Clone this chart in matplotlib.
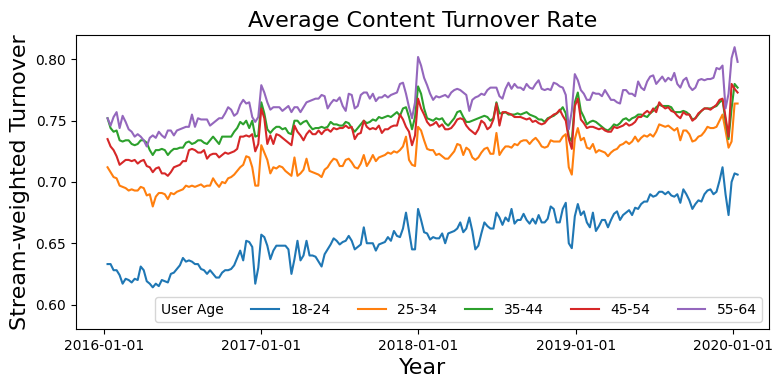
#Import libraries
import pandas as pd
import matplotlib
matplotlib.use("Agg")
import matplotlib.pyplot as plt
import matplotlib.dates as mdates
from matplotlib.lines import Line2D

#Weekly dates (one point per week)
weeks = pd.date_range("2016-01-10", periods=210, freq="7D")

#Age groups shown in the legend
age_groups = ["18-24", "25-34", "35-44", "45-54", "55-64"]

#Stream-weighted turnover per age group
turnover_18_24 = [
    0.633, 0.633, 0.628, 0.628, 0.624, 0.617, 0.621, 0.620, 0.618, 0.621,
    0.620, 0.631, 0.628, 0.619, 0.617, 0.614, 0.617, 0.615, 0.620, 0.619,
    0.618, 0.625, 0.626, 0.629, 0.632, 0.638, 0.635, 0.636, 0.635, 0.633,
    0.633, 0.629, 0.628, 0.625, 0.628, 0.625, 0.622, 0.622,
    0.626, 0.628, 0.628, 0.629, 0.632, 0.638, 0.644, 0.636, 0.652, 0.651,
    0.647, 0.617, 0.630, 0.657, 0.655, 0.648, 0.637, 0.644, 0.648, 0.648,
    0.648, 0.648, 0.645, 0.625, 0.637, 0.652, 0.636, 0.640, 0.652, 0.640,
    0.640, 0.639, 0.635, 0.631, 0.641, 0.645,
    0.649, 0.654, 0.652, 0.649, 0.651, 0.652, 0.656, 0.652, 0.645, 0.647,
    0.649, 0.663, 0.650, 0.650, 0.650, 0.644, 0.649, 0.650, 0.651, 0.655,
    0.652, 0.660, 0.656, 0.655, 0.662, 0.675, 0.660, 0.645, 0.645, 0.678,
    0.669, 0.659, 0.658, 0.653, 0.655, 0.654, 0.654, 0.658, 0.650, 0.658,
    0.659, 0.660, 0.662, 0.667, 0.659, 0.662, 0.671, 0.660, 0.645, 0.648,
    0.658, 0.667, 0.664, 0.662, 0.662, 0.675, 0.671, 0.665, 0.671, 0.668,
    0.678, 0.666, 0.669, 0.669, 0.674, 0.669, 0.666, 0.670, 0.666, 0.673,
    0.667, 0.667, 0.670, 0.680, 0.678, 0.667, 0.667, 0.678, 0.683, 0.650,
    0.646, 0.672, 0.682,
    0.673, 0.676, 0.667, 0.663, 0.675, 0.660, 0.664, 0.669, 0.669, 0.663,
    0.669, 0.674, 0.676, 0.669, 0.673, 0.675, 0.677, 0.673, 0.679, 0.678,
    0.682, 0.684, 0.684, 0.690, 0.688, 0.689,
    0.692, 0.692, 0.690, 0.692, 0.689, 0.688, 0.690, 0.683, 0.694, 0.690,
    0.685, 0.678, 0.682, 0.685, 0.684, 0.690, 0.693, 0.694, 0.690, 0.692,
    0.701, 0.712, 0.690, 0.673, 0.700, 0.707, 0.706,
]

turnover_25_34 = [
    0.712, 0.708, 0.704, 0.703, 0.697, 0.696, 0.695, 0.693, 0.694, 0.693,
    0.693, 0.696, 0.695, 0.689, 0.690, 0.680, 0.688, 0.691, 0.691, 0.690,
    0.686, 0.691, 0.690, 0.692, 0.693, 0.694, 0.697, 0.696, 0.697, 0.696,
    0.697, 0.698, 0.696, 0.697, 0.697, 0.703, 0.699, 0.696,
    0.700, 0.699, 0.703, 0.704, 0.706, 0.709, 0.712, 0.714, 0.721, 0.720,
    0.712, 0.697, 0.697, 0.730, 0.724, 0.718, 0.707, 0.712, 0.711, 0.713,
    0.712, 0.709, 0.707, 0.705, 0.720, 0.705, 0.707, 0.710, 0.719, 0.709,
    0.708, 0.707, 0.706, 0.704, 0.710, 0.712,
    0.716, 0.719, 0.718, 0.713, 0.713, 0.718, 0.719, 0.716, 0.712, 0.711,
    0.715, 0.722, 0.713, 0.717, 0.722, 0.717, 0.720, 0.721, 0.722, 0.724,
    0.723, 0.725, 0.724, 0.726, 0.729, 0.737, 0.718, 0.714, 0.713, 0.745,
    0.742, 0.734, 0.727, 0.726, 0.726, 0.722, 0.723, 0.721, 0.719, 0.719,
    0.722, 0.725, 0.731, 0.730, 0.722, 0.728, 0.726, 0.720, 0.718, 0.720,
    0.724, 0.727, 0.728, 0.723, 0.723, 0.740, 0.722, 0.726, 0.729, 0.729,
    0.728, 0.731, 0.730, 0.733, 0.734, 0.734, 0.731, 0.734, 0.736, 0.733,
    0.729, 0.728, 0.729, 0.734, 0.733, 0.733, 0.733, 0.737, 0.739, 0.712,
    0.706, 0.735, 0.744,
    0.734, 0.736, 0.728, 0.727, 0.731, 0.724, 0.726, 0.725, 0.724, 0.721,
    0.724, 0.726, 0.727, 0.730, 0.731, 0.733, 0.731, 0.733, 0.737, 0.733,
    0.736, 0.738, 0.737, 0.739, 0.737, 0.741,
    0.747, 0.746, 0.745, 0.746, 0.744, 0.742, 0.744, 0.734, 0.742, 0.742,
    0.739, 0.733, 0.734, 0.737, 0.738, 0.741, 0.745, 0.744, 0.744, 0.745,
    0.750, 0.755, 0.742, 0.728, 0.733, 0.764, 0.764,
]

turnover_35_44 = [
    0.752, 0.744, 0.741, 0.742, 0.734, 0.733, 0.734, 0.734, 0.731, 0.730,
    0.731, 0.734, 0.734, 0.732, 0.726, 0.722, 0.726, 0.726, 0.727, 0.726,
    0.722, 0.725, 0.727, 0.727, 0.728, 0.728, 0.732, 0.733, 0.731, 0.732,
    0.734, 0.734, 0.732, 0.731, 0.734, 0.737, 0.734, 0.731,
    0.737, 0.737, 0.737, 0.737, 0.741, 0.744, 0.749, 0.747, 0.750, 0.744,
    0.750, 0.737, 0.738, 0.765, 0.756, 0.743, 0.740, 0.743, 0.745, 0.745,
    0.743, 0.744, 0.740, 0.739, 0.750, 0.750, 0.747, 0.749, 0.750, 0.746,
    0.743, 0.744, 0.744, 0.745, 0.744, 0.745,
    0.749, 0.747, 0.747, 0.746, 0.746, 0.749, 0.748, 0.744, 0.741, 0.744,
    0.747, 0.750, 0.748, 0.749, 0.751, 0.750, 0.753, 0.752, 0.753, 0.754,
    0.753, 0.755, 0.757, 0.754, 0.760, 0.761, 0.753, 0.743, 0.753, 0.778,
    0.772, 0.760, 0.752, 0.751, 0.750, 0.752, 0.751, 0.752, 0.748, 0.746,
    0.749, 0.752, 0.757, 0.758, 0.753, 0.749, 0.749, 0.750, 0.751, 0.752,
    0.753, 0.754, 0.753, 0.750, 0.752, 0.765, 0.756, 0.756, 0.757, 0.755,
    0.755, 0.755, 0.756, 0.755, 0.756, 0.757, 0.755, 0.754, 0.753, 0.751,
    0.751, 0.749, 0.752, 0.753, 0.754, 0.756, 0.758, 0.761, 0.756, 0.737,
    0.733, 0.765, 0.773,
    0.758, 0.753, 0.747, 0.749, 0.750, 0.749, 0.747, 0.745, 0.743, 0.742,
    0.744, 0.747, 0.746, 0.748, 0.751, 0.752, 0.750, 0.752, 0.753, 0.755,
    0.755, 0.754, 0.753, 0.756, 0.758, 0.761,
    0.763, 0.762, 0.762, 0.762, 0.761, 0.757, 0.757, 0.757, 0.758, 0.757,
    0.755, 0.751, 0.752, 0.755, 0.758, 0.760, 0.760, 0.760, 0.761, 0.762,
    0.765, 0.767, 0.750, 0.735, 0.760, 0.780, 0.777,
]

turnover_45_54 = [
    0.735, 0.729, 0.726, 0.721, 0.714, 0.716, 0.718, 0.718, 0.717, 0.718,
    0.715, 0.717, 0.718, 0.713, 0.712, 0.708, 0.711, 0.712, 0.707, 0.707,
    0.705, 0.708, 0.712, 0.713, 0.714, 0.717, 0.717, 0.726, 0.727, 0.726,
    0.724, 0.724, 0.726, 0.719, 0.722, 0.723, 0.723, 0.720,
    0.722, 0.724, 0.723, 0.724, 0.725, 0.727, 0.737, 0.737, 0.738, 0.737,
    0.739, 0.725, 0.731, 0.760, 0.752, 0.731, 0.738, 0.731, 0.739, 0.738,
    0.736, 0.734, 0.732, 0.730, 0.746, 0.741, 0.738, 0.734, 0.739, 0.742,
    0.739, 0.739, 0.742, 0.739, 0.742, 0.743,
    0.741, 0.744, 0.743, 0.744, 0.744, 0.746, 0.744, 0.745, 0.735, 0.739,
    0.740, 0.750, 0.745, 0.743, 0.744, 0.743, 0.746, 0.740, 0.743, 0.743,
    0.745, 0.746, 0.746, 0.755, 0.751, 0.745, 0.741, 0.730, 0.738, 0.768,
    0.760, 0.755, 0.749, 0.746, 0.747, 0.749, 0.745, 0.747, 0.743, 0.743,
    0.744, 0.747, 0.751, 0.752, 0.751, 0.746, 0.743, 0.741, 0.739, 0.743,
    0.750, 0.748, 0.743, 0.745, 0.751, 0.764, 0.746, 0.757, 0.757, 0.756,
    0.755, 0.753, 0.753, 0.753, 0.752, 0.751, 0.752, 0.749, 0.750, 0.748,
    0.747, 0.748, 0.751, 0.753, 0.755, 0.756, 0.759, 0.754, 0.750, 0.735,
    0.727, 0.762, 0.768,
    0.751, 0.748, 0.744, 0.745, 0.745, 0.744, 0.743, 0.744, 0.742, 0.741,
    0.741, 0.745, 0.744, 0.745, 0.746, 0.748, 0.746, 0.747, 0.749, 0.753,
    0.753, 0.756, 0.758, 0.756, 0.760, 0.757,
    0.765, 0.762, 0.760, 0.761, 0.758, 0.757, 0.754, 0.752, 0.757, 0.755,
    0.755, 0.750, 0.752, 0.756, 0.758, 0.760, 0.760, 0.759, 0.761, 0.763,
    0.767, 0.768, 0.753, 0.737, 0.780, 0.776, 0.773,
]

turnover_55_64 = [
    0.752, 0.746, 0.753, 0.757, 0.744, 0.754, 0.749, 0.743, 0.741, 0.737,
    0.739, 0.737, 0.734, 0.729, 0.736, 0.738, 0.736, 0.741, 0.738, 0.736,
    0.742, 0.742, 0.738, 0.742, 0.743, 0.744, 0.745, 0.745, 0.755, 0.745,
    0.752, 0.751, 0.751, 0.751, 0.746, 0.748, 0.750, 0.752,
    0.752, 0.756, 0.761, 0.759, 0.754, 0.756, 0.763, 0.767, 0.764, 0.765,
    0.753, 0.749, 0.753, 0.779, 0.773, 0.765, 0.759, 0.761, 0.761, 0.761,
    0.758, 0.760, 0.762, 0.757, 0.761, 0.761, 0.757, 0.761, 0.765, 0.766,
    0.767, 0.768, 0.768, 0.771, 0.770, 0.760,
    0.764, 0.767, 0.766, 0.769, 0.762, 0.758, 0.772, 0.771, 0.760, 0.762,
    0.771, 0.773, 0.773, 0.768, 0.772, 0.766, 0.769, 0.769, 0.771, 0.769,
    0.771, 0.772, 0.773, 0.780, 0.781, 0.772, 0.761, 0.752, 0.765, 0.802,
    0.795, 0.785, 0.779, 0.772, 0.767, 0.770, 0.769, 0.770, 0.771, 0.769,
    0.773, 0.775, 0.776, 0.775, 0.773, 0.771, 0.758, 0.767, 0.769, 0.770,
    0.772, 0.771, 0.775, 0.777, 0.777, 0.777, 0.770, 0.768, 0.776, 0.781,
    0.776, 0.780, 0.777, 0.777, 0.775, 0.780, 0.777, 0.776, 0.780, 0.783,
    0.776, 0.775, 0.776, 0.775, 0.781, 0.780, 0.778, 0.777, 0.771, 0.743,
    0.758, 0.788, 0.783,
    0.775, 0.772, 0.767, 0.767, 0.773, 0.772, 0.772, 0.770, 0.775, 0.771,
    0.767, 0.767, 0.765, 0.764, 0.775, 0.775, 0.772, 0.772, 0.770, 0.782,
    0.777, 0.775, 0.782, 0.786, 0.787, 0.780,
    0.783, 0.786, 0.782, 0.785, 0.783, 0.789, 0.780, 0.777, 0.783, 0.785,
    0.778, 0.775, 0.777, 0.783, 0.784, 0.783, 0.784, 0.784, 0.785, 0.793,
    0.792, 0.795, 0.760, 0.772, 0.801, 0.810, 0.798,
]

series = [turnover_18_24, turnover_25_34, turnover_35_44, turnover_45_54, turnover_55_64]

#Plotting the figure
fig = plt.figure(figsize=(7.84, 3.88), dpi=100)
ax = fig.add_axes([0.097, 0.152, 0.884, 0.758])

#Dummy entry so that the hue title shows up inside the legend row
handles = [Line2D([], [], visible=False)]
labels = ["User Age"]

for group, values in zip(age_groups, series):
    line, = ax.plot(weeks, values, linewidth=1.5, label=group)
    handles.append(line)
    labels.append(group)

ax.set_ylim(0.58, 0.82)
ax.xaxis.set_major_locator(mdates.YearLocator())
ax.xaxis.set_major_formatter(mdates.DateFormatter("%Y-%m-%d"))
ax.yaxis.set_major_formatter(matplotlib.ticker.FormatStrFormatter("%.2f"))

ax.set_title("Average Content Turnover Rate", fontsize=16)
ax.set_xlabel("Year", fontsize=16)
ax.set_ylabel("Stream-weighted Turnover", fontsize=16)

leg = ax.legend(handles, labels, loc="lower right", ncol=6, fontsize=10)

#Remove the empty handle box of the title entry
try:
    first = leg._legend_handle_box.get_children()[0].get_children()[0]
    first._children = [first._children[1]]
except Exception:
    pass

#Save plot
plt.savefig("out.png", dpi=100)
